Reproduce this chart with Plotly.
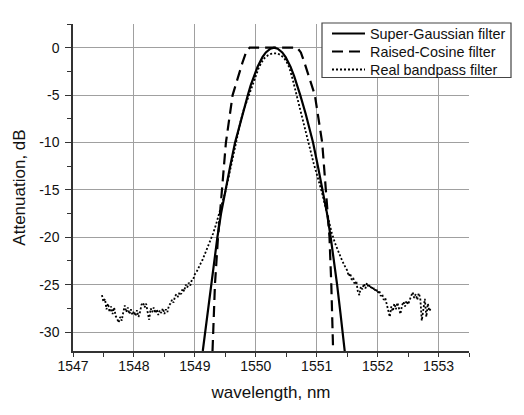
import plotly.graph_objects as go

# Super-Gaussian filter (wavelength nm, attenuation dB)
sg_x = [1549.13, 1549.14, 1549.21, 1549.26, 1549.31, 1549.37, 1549.43, 1549.50, 1549.58,
        1549.66, 1549.78, 1549.87, 1549.915, 1549.97, 1550.03, 1550.11, 1550.165, 1550.24,
        1550.30,
        1550.36, 1550.435, 1550.49, 1550.57, 1550.63, 1550.685, 1550.73, 1550.82, 1550.94,
        1551.02, 1551.10, 1551.17, 1551.23, 1551.285, 1551.335, 1551.39, 1551.45, 1551.46]
sg_y = [-32, -31.5, -28, -25, -22.5, -20, -17.5, -15, -12.5,
        -10, -7, -5, -4, -3, -2, -1, -0.5, -0.1,
        0,
        -0.1, -0.5, -1, -2, -3, -4, -5, -7, -10,
        -12.5, -15, -17.5, -20, -22.5, -25, -28, -31.5, -32]

# Raised-Cosine filter
rc_x = [1549.29, 1549.30, 1549.33, 1549.38, 1549.45, 1549.51, 1549.62, 1549.71, 1549.78,
        1549.84, 1549.90, 1550.68, 1550.74, 1550.80, 1550.87, 1550.97, 1551.09, 1551.15,
        1551.21, 1551.24, 1551.26, 1551.27]
rc_y = [-32, -30, -25, -20, -15, -10, -5, -3, -1.6,
        -0.5, 0, 0, -0.5, -1.6, -3, -5, -10, -15,
        -20, -25, -30, -32]

# Real bandpass filter (measured)
rb_x = [1547.475, 1547.500, 1547.525, 1547.550, 1547.575, 1547.600, 1547.625, 1547.650,
        1547.675, 1547.700, 1547.725, 1547.750, 1547.775, 1547.800, 1547.825, 1547.850,
        1547.875, 1547.900, 1547.925, 1547.950, 1547.975, 1548.000, 1548.025, 1548.050,
        1548.075, 1548.100, 1548.125, 1548.150, 1548.175, 1548.200, 1548.225, 1548.250,
        1548.275, 1548.300, 1548.325, 1548.350, 1548.375, 1548.400, 1548.425, 1548.450,
        1548.475, 1548.500, 1548.525, 1548.550, 1548.575, 1548.600, 1548.625, 1548.650,
        1548.675, 1548.700, 1548.725, 1548.750, 1548.775, 1548.800, 1548.825, 1548.850,
        1548.875, 1548.900, 1548.925, 1548.950, 1548.975, 1549.000,
        1549.025, 1549.050, 1549.075, 1549.100, 1549.125, 1549.150, 1549.175, 1549.200,
        1549.25, 1549.30, 1549.35, 1549.40, 1549.45, 1549.50, 1549.55, 1549.60, 1549.65,
        1549.70, 1549.75, 1549.80, 1549.85, 1549.90, 1549.95, 1550.00, 1550.05, 1550.10,
        1550.15, 1550.20, 1550.25, 1550.30, 1550.35, 1550.40, 1550.45, 1550.50, 1550.55,
        1550.60, 1550.65, 1550.70, 1550.75, 1550.80, 1550.85, 1550.90, 1550.95, 1551.00,
        1551.05, 1551.10, 1551.15, 1551.20, 1551.25, 1551.30, 1551.35, 1551.40, 1551.45,
        1551.50,
        1551.525, 1551.550, 1551.575, 1551.600, 1551.625, 1551.650, 1551.675, 1551.700,
        1551.725, 1551.750, 1551.775, 1551.800, 1551.825, 1551.850, 1551.875, 1551.900,
        1551.925, 1551.950, 1551.975, 1552.000, 1552.025, 1552.050, 1552.075, 1552.100,
        1552.125, 1552.150, 1552.175, 1552.200, 1552.225, 1552.250, 1552.275, 1552.300,
        1552.325, 1552.350, 1552.375, 1552.400, 1552.425, 1552.450, 1552.475, 1552.500,
        1552.525, 1552.550, 1552.575, 1552.600, 1552.625, 1552.650, 1552.675, 1552.700,
        1552.725, 1552.750, 1552.775, 1552.800, 1552.825, 1552.850, 1552.875]
rb_y = [-26.1, -26.8, -26.5, -27.6, -27.0, -27.9, -27.3, -28.1,
        -27.4, -28.3, -28.6, -29.0, -28.4, -28.8, -27.9, -27.2,
        -27.9, -27.4, -28.1, -27.6, -28.2, -27.8, -28.3, -27.7,
        -28.4, -27.9, -27.1, -26.9, -27.4, -27.0, -27.9, -28.7,
        -27.5, -27.9, -27.4, -28.0, -27.6, -28.2, -27.7, -28.0,
        -27.5, -28.1, -27.6, -27.9, -27.2, -27.0, -26.6, -26.9,
        -26.2, -26.0, -26.3, -25.8, -26.0, -25.4, -25.7, -25.0,
        -25.3, -24.8, -25.1, -24.5, -24.4, -23.9,
        -23.7, -23.3, -23.0, -22.7, -22.4, -22.0, -21.7, -21.3,
        -20.5, -19.6, -18.6, -17.5, -16.3, -15.2, -13.8, -12.3, -10.5,
        -9.1, -7.8, -6.6, -5.7, -4.9, -3.8, -2.9, -2.1, -1.5,
        -1.05, -0.8, -0.65, -0.6, -0.6, -0.75, -1.0, -1.4, -2.1,
        -3.2, -4.5, -5.8, -7.2, -8.5, -9.8, -11.1, -12.2, -13.3,
        -14.4, -15.6, -17.0, -18.4, -19.6, -20.6, -21.5, -22.2, -22.9,
        -23.5,
        -24.1, -23.8, -24.5, -24.3, -25.0, -24.6, -25.7, -26.1,
        -25.2, -25.5, -24.9, -25.4, -24.8, -25.3, -25.0, -25.5,
        -25.2, -25.7, -25.4, -25.9, -25.6, -26.2, -26.0, -26.6,
        -26.4, -27.0, -27.9, -28.4, -27.3, -27.8, -27.0, -27.6,
        -26.9, -27.5, -28.1, -27.2, -26.8, -27.3, -26.7, -27.1,
        -26.5, -26.2, -25.8, -26.4, -26.0, -26.6, -25.9, -26.4,
        -28.8, -27.3, -26.5, -28.4, -27.0, -27.8, -27.4]

x_ticks = [1547, 1548, 1549, 1550, 1551, 1552, 1553]
y_ticks = [0, -5, -10, -15, -20, -25, -30]

series_names = ["Super-Gaussian filter", "Raised-Cosine filter", "Real bandpass filter"]
series_dash = ["solid", "11px,6px", "2px,2px"]
series_width = [2.2, 2.2, 1.8]

FONT = "Liberation Sans, Arial, Helvetica, sans-serif"

fig = go.Figure()
for (xs, ys), name, dash, w in zip([(sg_x, sg_y), (rc_x, rc_y), (rb_x, rb_y)],
                                   series_names, series_dash, series_width):
    fig.add_trace(go.Scatter(x=xs, y=ys, mode="lines", name=name, showlegend=False,
                             line=dict(color="black", width=w, dash=dash)))

# Legend drawn as a framed box in paper coordinates (outside the data)
L, R = 73, 55
T, B = 24, 64
W, H = 524 - L - R, 415 - T - B


def px(xp):
    return (xp - L) / W


def py(yp):
    return (415 - B - yp) / H


shapes = [dict(type="rect", xref="paper", yref="paper",
               x0=px(322), x1=px(511), y0=py(77.5), y1=py(23),
               fillcolor="white", line=dict(color="#444444", width=1.2), layer="above")]
annotations = []
row_y = [33.5, 51.5, 69.5]
for name, dash, w, ry in zip(series_names, series_dash, series_width, row_y):
    shapes.append(dict(type="line", xref="paper", yref="paper",
                       x0=px(332), x1=px(365), y0=py(ry), y1=py(ry),
                       line=dict(color="black", width=w, dash=dash), layer="above"))
    annotations.append(dict(xref="paper", yref="paper", x=px(368), y=py(ry),
                            xanchor="left", yanchor="middle", showarrow=False,
                            text=name, font=dict(family=FONT, size=14.4, color="#111111")))

axis_common = dict(
    showgrid=True, gridcolor="#a0a0a0", gridwidth=1,
    showline=True, linecolor="#333333", linewidth=1.5,
    ticks="outside", tickwidth=1.2, tickcolor="#333333",
    zeroline=False, mirror=False,
    tickfont=dict(family=FONT, size=14, color="#111111"),
)

fig.update_layout(
    width=524, height=415,
    margin=dict(l=L, r=R, t=T, b=B),
    paper_bgcolor="white", plot_bgcolor="white",
    font=dict(family=FONT, color="#111111"),
    showlegend=False,
    shapes=shapes,
    annotations=annotations,
    xaxis=dict(
        range=[1547, 1553.5], tickvals=x_ticks,
        ticktext=[str(v) for v in x_ticks], ticklen=4,
        minor=dict(dtick=0.5, ticks="outside", ticklen=4, tickcolor="#333333", showgrid=False),
        title=dict(text="wavelength, nm", font=dict(family=FONT, size=17), standoff=14),
        ticklabelstandoff=-3,
        **axis_common,
    ),
    yaxis=dict(
        range=[-32, 2.5], tickvals=y_ticks,
        ticktext=[str(v) for v in y_ticks], ticklen=6,
        minor=dict(dtick=2.5, ticks="outside", ticklen=4, tickcolor="#333333", showgrid=False),
        title=dict(text="Attenuation, dB", font=dict(family=FONT, size=17), standoff=9),
        ticklabelstandoff=3,
        **axis_common,
    ),
)

fig.write_html("out.html")
